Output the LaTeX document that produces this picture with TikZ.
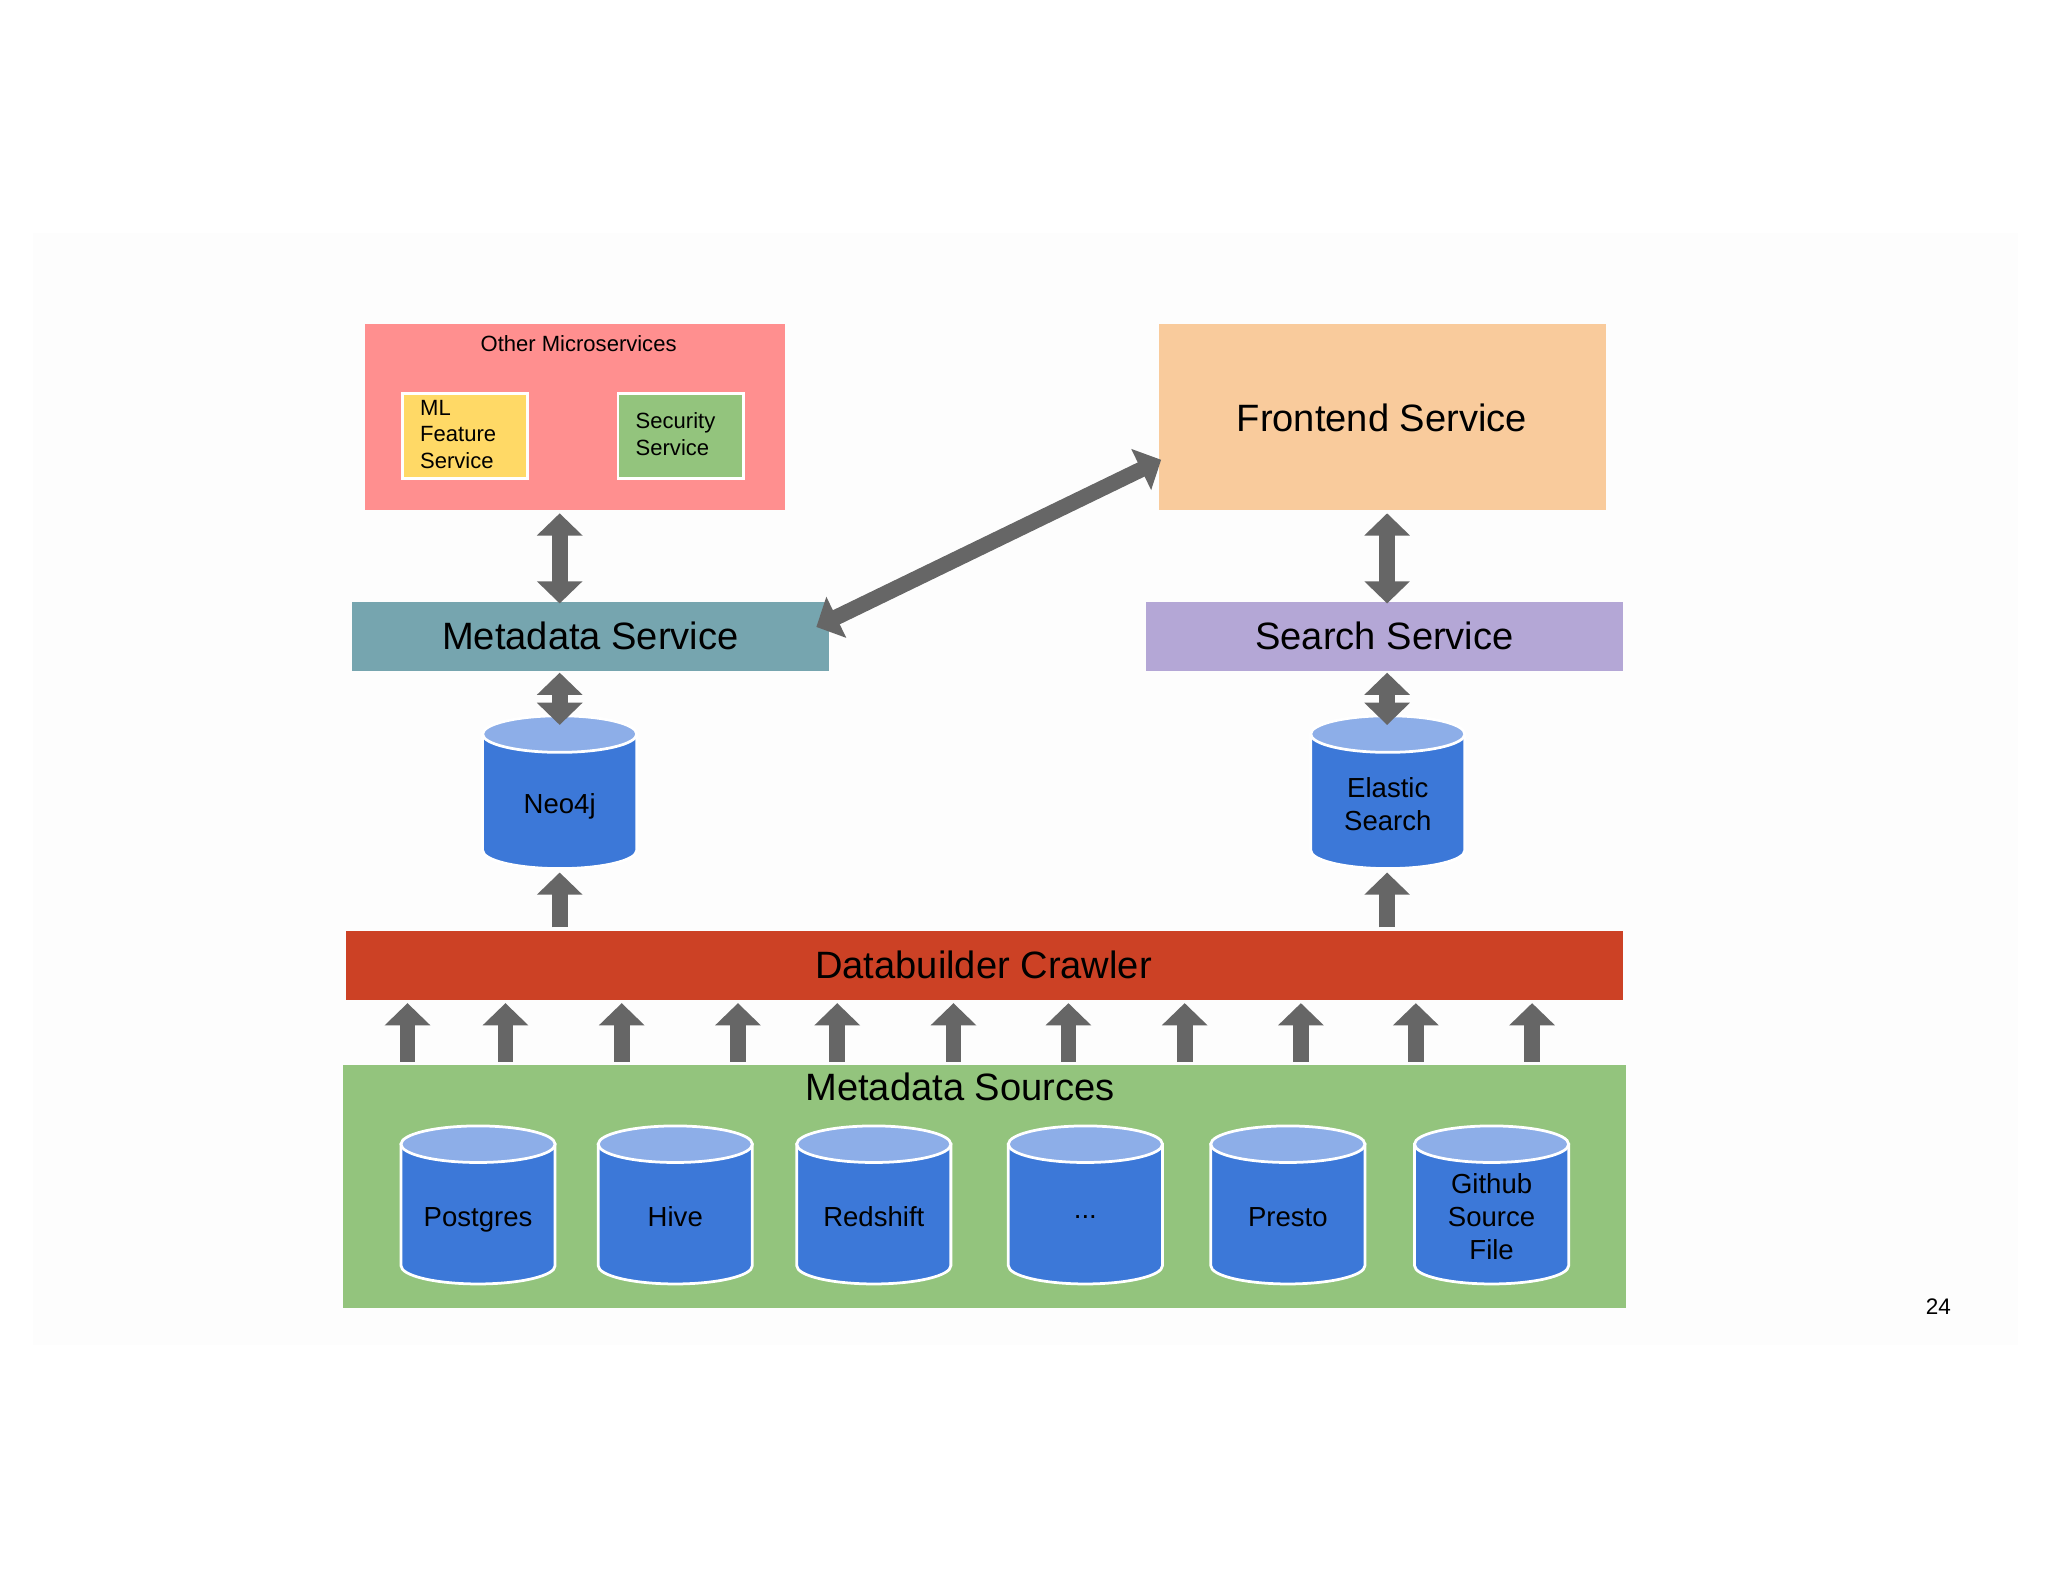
\documentclass[tikz,border=0pt]{standalone}
\usepackage{fontspec}
\setmainfont{Liberation Sans}
\usetikzlibrary{arrows.meta}
\definecolor{micro}{HTML}{FF8F8F}
\definecolor{mlc}{HTML}{FFD966}
\definecolor{secc}{HTML}{93C47D}
\definecolor{front}{HTML}{F9CB9C}
\definecolor{meta}{HTML}{76A5AF}
\definecolor{search}{HTML}{B4A7D6}
\definecolor{crawl}{HTML}{CC4125}
\definecolor{cylb}{HTML}{3C78D8}
\definecolor{cylt}{HTML}{8DAEE8}
\definecolor{arr}{HTML}{666666}
\tikzset{
 box/.style={draw=none,inner sep=0pt,anchor=north west},
 big/.style={font=\fontsize{8.3pt}{9pt}\selectfont},
 fat/.style={draw=arr,line width=0.12cm,-{Triangle[length=0.17cm,width=0.34cm]},shorten >=0pt},
 fatd/.style={draw=arr,line width=0.12cm,{Triangle[length=0.17cm,width=0.34cm]}-{Triangle[length=0.17cm,width=0.34cm]}},
}
\newcommand{\dbcyl}[5]{% name, cx, ytop, ybot, text
 \fill[cylb,draw=white,line width=0.6pt] (#2-0.59,#3) -- (#2-0.59,#4) arc[start angle=180,end angle=360,x radius=0.59,y radius=0.14] -- (#2+0.59,#3) -- cycle;
 \fill[cylt,draw=white,line width=0.6pt] (#2,#3) ellipse[x radius=0.59,y radius=0.14];
 \node[align=center,font=\fontsize{6pt}{7.2pt}\selectfont,text depth=0pt,inner sep=0pt] (#1) at (#2,{((#3)+(#4))/2-0.09}) {#5};
}
\begin{document}
\begin{tikzpicture}[x=1cm,y=1cm]
\useasboundingbox (0,0) rectangle (15.68,-12.11);
\fill[gray!1.5] (0.25,-1.78) rectangle (15.45,-10.30);
% top row
\node[box,fill=micro,minimum width=3.21cm,minimum height=1.43cm] (micro) at (2.79,-2.47) {};
\node[font=\fontsize{4.8pt}{6pt}\selectfont] (microt) at (4.43,-2.63) {Other Microservices};
\node[box,fill=mlc,draw=white,line width=0.6pt,minimum width=0.96cm,minimum height=0.65cm] (ml) at (3.07,-3.00) {};
\node[anchor=west,align=left,font=\fontsize{4.8pt}{5.8pt}\selectfont,inner sep=0pt] (mlt) at (3.21,-3.325) {ML\\Feature\\Service};
\node[box,fill=secc,draw=white,line width=0.6pt,minimum width=0.96cm,minimum height=0.65cm] (sec) at (4.72,-3.00) {};
\node[anchor=west,align=left,font=\fontsize{4.8pt}{5.8pt}\selectfont,inner sep=0pt] (sect) at (4.86,-3.325) {Security\\Service};
\node[box,fill=front,minimum width=3.42cm,minimum height=1.43cm] (front) at (8.87,-2.47) {};
\node[big] (frontt) at (10.58,-3.20) {Frontend Service};
% services
\node[box,fill=meta,minimum width=3.65cm,minimum height=0.53cm] (meta) at (2.69,-4.60) {};
\node[big] (metat) at (4.52,-4.87) {Metadata Service};
\node[box,fill=search,minimum width=3.65cm,minimum height=0.53cm] (search) at (8.77,-4.60) {};
\node[big] (searcht) at (10.60,-4.87) {Search Service};
% dbs
\dbcyl{neo}{4.285}{-5.62}{-6.51}{Neo4j}
\dbcyl{es}{10.625}{-5.62}{-6.51}{Elastic\\Search}
% crawler
\node[box,fill=crawl,minimum width=9.78cm,minimum height=0.53cm] (crawl) at (2.64,-7.12) {};
\node[big] (crawlt) at (7.53,-7.39) {Databuilder Crawler};
% sources
\node[box,fill=secc,minimum width=9.82cm,minimum height=1.86cm] (src) at (2.62,-8.15) {};
\node[big] (srct) at (7.35,-8.32) {Metadata Sources};
\dbcyl{s1}{3.66}{-8.76}{-9.69}{Postgres}
\dbcyl{s2}{5.17}{-8.76}{-9.69}{Hive}
\dbcyl{s3}{6.69}{-8.76}{-9.69}{Redshift}
\dbcyl{s4}{8.31}{-8.76}{-9.69}{...}
\dbcyl{s5}{9.86}{-8.76}{-9.69}{Presto}
\dbcyl{s6}{11.42}{-8.76}{-9.69}{Github\\Source\\File}
\node[font=\fontsize{4.9pt}{6pt}\selectfont] (pg) at (14.84,-10.00) {24};
% arrows
\coordinate (a1) at (4.285,-3.93); \coordinate (a2) at (4.285,-4.62);
\draw[fatd] (a1) -- (a2);
\coordinate (b1) at (4.285,-5.15); \coordinate (b2) at (4.285,-5.55);
\draw[fatd] (b1) -- (b2);
\coordinate (c1) at (10.62,-3.93); \coordinate (c2) at (10.62,-4.62);
\draw[fatd] (c1) -- (c2);
\coordinate (d1) at (10.62,-5.15); \coordinate (d2) at (10.62,-5.55);
\draw[fatd] (d1) -- (d2);
\coordinate (e1) at (6.25,-4.80); \coordinate (e2) at (8.89,-3.52);
\draw[fatd] (e1) -- (e2);
\coordinate (f1) at (4.285,-7.10); \coordinate (f2) at (4.285,-6.68);
\draw[fat] (f1) -- (f2);
\coordinate (g1) at (10.62,-7.10); \coordinate (g2) at (10.62,-6.68);
\draw[fat] (g1) -- (g2);
\foreach \i/\x in {1/3.12,2/3.87,3/4.76,4/5.65,5/6.41,6/7.30,7/8.18,8/9.07,9/9.96,10/10.84,11/11.73}{
 \coordinate (u\i) at (\x,-8.13); \coordinate (v\i) at (\x,-7.68);
 \draw[fat] (u\i) -- (v\i);
}
\end{tikzpicture}
\end{document}
